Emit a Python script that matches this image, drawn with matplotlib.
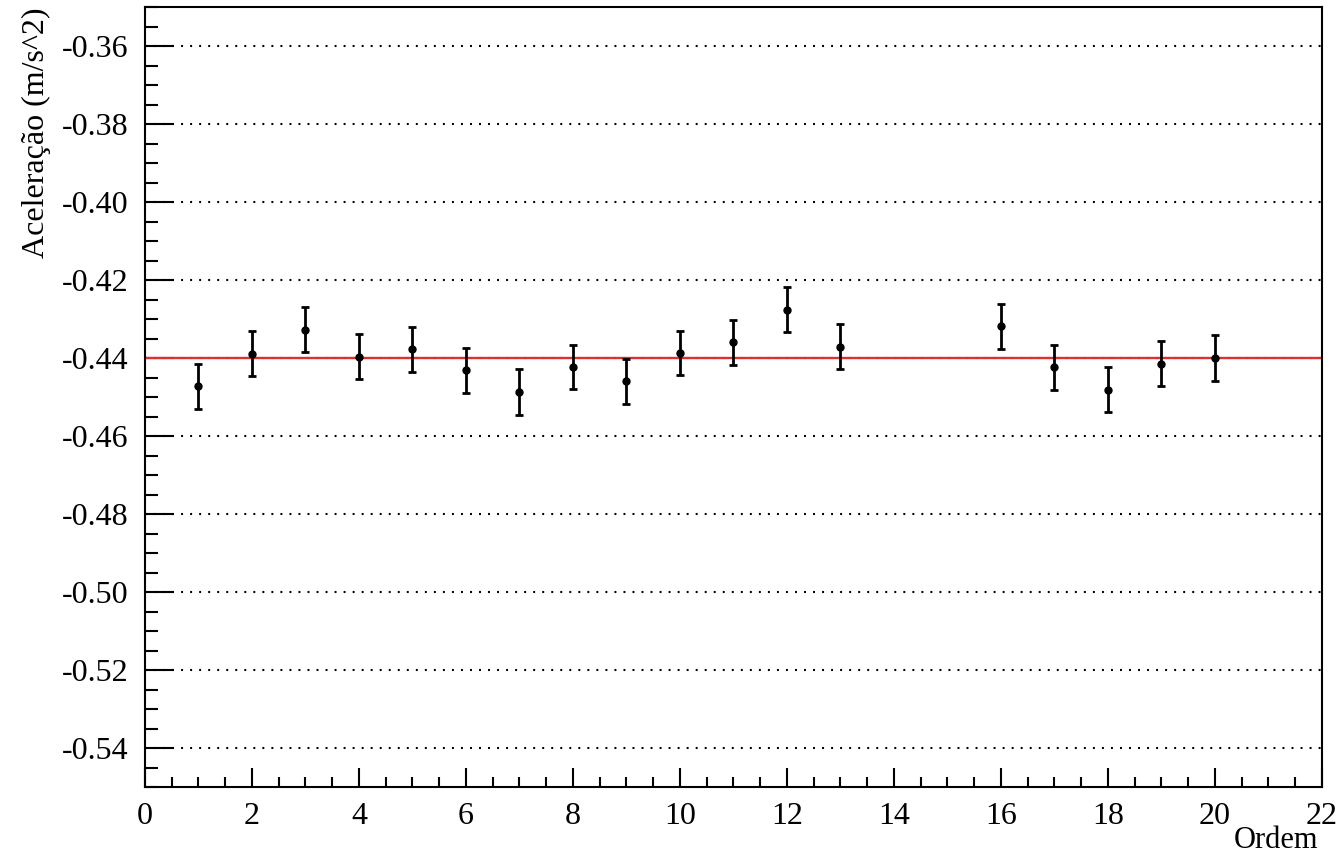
import matplotlib
matplotlib.use("Agg")
import matplotlib.pyplot as plt
from matplotlib.ticker import MultipleLocator, FormatStrFormatter

plt.rcParams['font.family'] = ['Liberation Serif', 'DejaVu Serif']
plt.rcParams['lines.scale_dashes'] = False

# Measurements: order index, acceleration and its uncertainty
ordem = [1, 2, 3, 4, 5, 6, 7, 8, 9, 10, 11, 12, 13, 16, 17, 18, 19, 20]
aceleracao = [-0.4473, -0.4389, -0.4327, -0.4397, -0.4378, -0.4432, -0.4487, -0.4423,
              -0.4460, -0.4387, -0.4360, -0.4276, -0.4371, -0.4319, -0.4424, -0.4481,
              -0.4415, -0.4400]
erro = [0.0058, 0.0057, 0.0057, 0.0058, 0.0058, 0.0058, 0.0058, 0.0057,
        0.0058, 0.0057, 0.0057, 0.0057, 0.0057, 0.0058, 0.0058, 0.0058,
        0.0058, 0.0058]
media = -0.4400

fig = plt.figure(figsize=(13.41, 8.56), dpi=100)
ax = fig.add_axes([0.1081, 0.0806, 0.8777, 0.9112])

ax.set_xlim(0, 22)
ax.set_ylim(-0.55, -0.35)

# horizontal dotted grid at major y ticks
for yv in [-0.54, -0.52, -0.50, -0.48, -0.46, -0.44, -0.42, -0.40, -0.38, -0.36]:
    ax.axhline(yv, color='black', lw=1.5, linestyle=(0, (1.4, 5.1)), zorder=1)

ax.axhline(media, color='#e0302e', lw=1.7, zorder=2)

ax.errorbar(ordem, aceleracao, yerr=erro, fmt='o', color='black', ms=5,
            elinewidth=2.0, capsize=3, capthick=2.0, zorder=3)

ax.xaxis.set_major_locator(MultipleLocator(2))
ax.xaxis.set_minor_locator(MultipleLocator(0.5))
ax.yaxis.set_major_locator(MultipleLocator(0.02))
ax.yaxis.set_minor_locator(MultipleLocator(0.005))
ax.yaxis.set_major_formatter(FormatStrFormatter('%.2f'))
ax.xaxis.set_major_formatter(FormatStrFormatter('%d'))

ax.tick_params(axis='both', which='both', direction='in', top=False, right=False,
               labelsize=23, width=1.5)
ax.tick_params(axis='x', which='major', length=14, pad=11)
ax.tick_params(axis='x', which='minor', length=7)
ax.tick_params(axis='y', which='major', length=20, pad=12)
ax.tick_params(axis='y', which='minor', length=9)

for s in ax.spines.values():
    s.set_linewidth(1.5)

ax.set_xlabel('Ordem', fontsize=22, loc='right', labelpad=-4)
ax.xaxis.label.set_x(0.997)
ax.set_ylabel('Aceleração (m/s^2)', fontsize=23, loc='top', labelpad=8)

fig.savefig('out.png', dpi=100)
